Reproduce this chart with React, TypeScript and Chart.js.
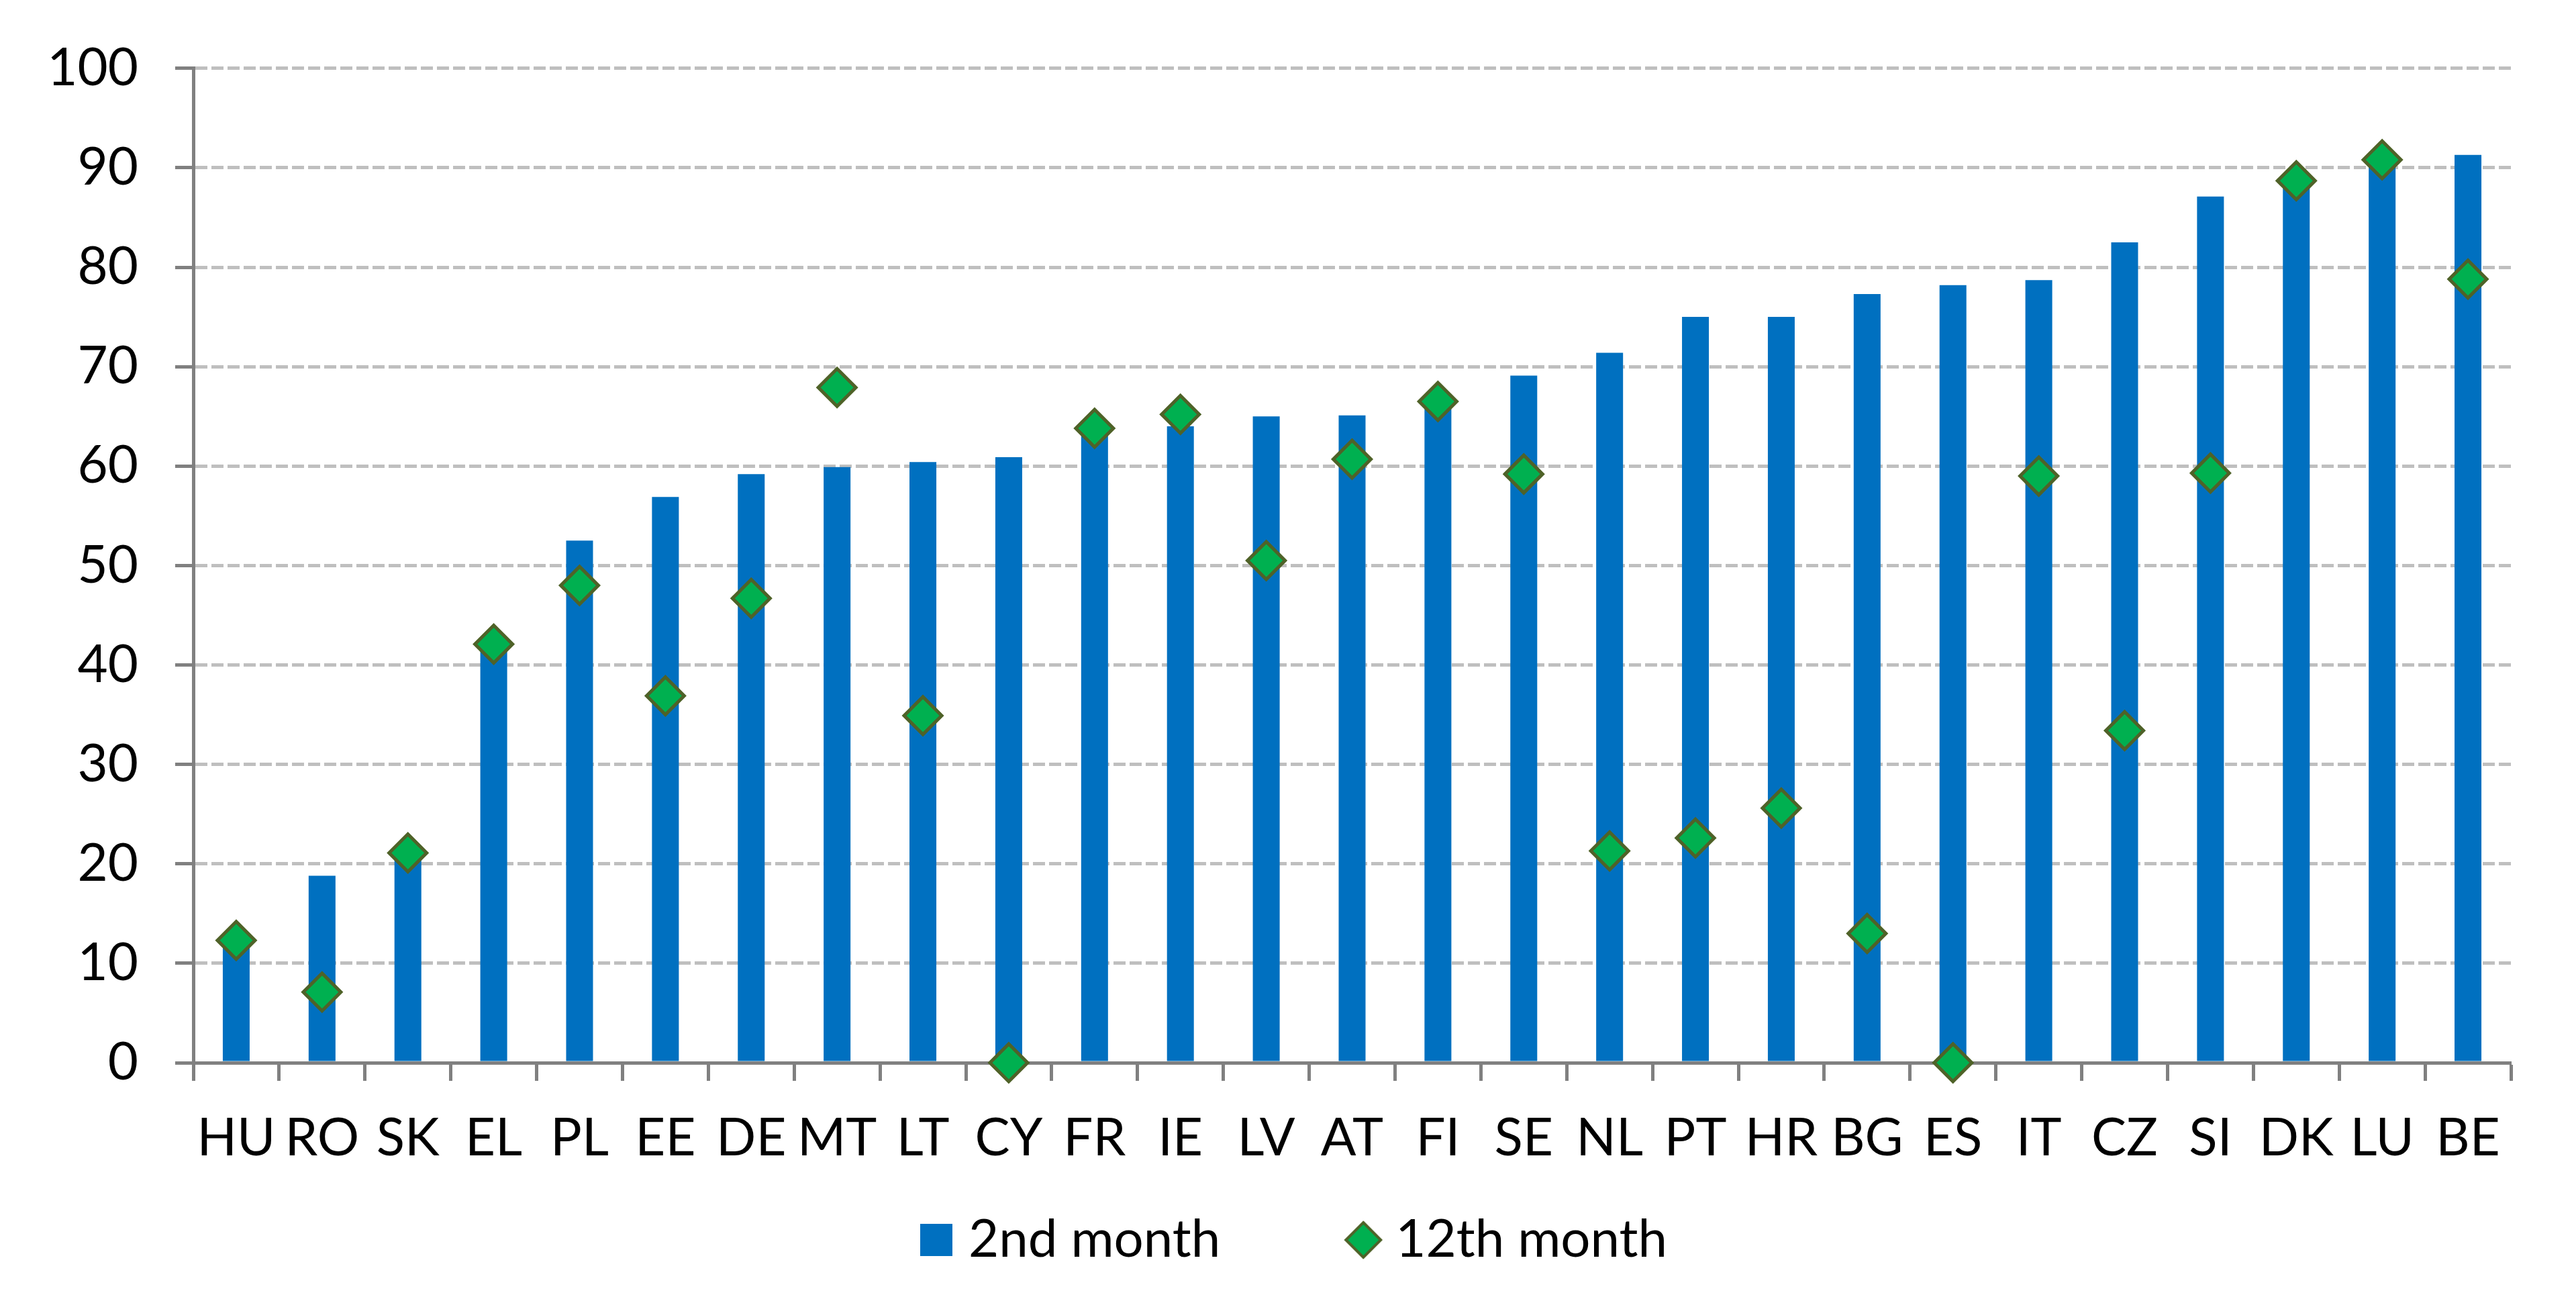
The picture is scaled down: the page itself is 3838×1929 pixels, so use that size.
import { useEffect, useRef } from "react";
import { Chart, registerables } from "chart.js";

Chart.register(...registerables);

const countries = [
  "HU", "RO", "SK", "EL", "PL", "EE", "DE", "MT", "LT", "CY", "FR", "IE", "LV", "AT",
  "FI", "SE", "NL", "PT", "HR", "BG", "ES", "IT", "CZ", "SI", "DK", "LU", "BE",
];
const secondMonth = [
  12.0, 18.8, 20.8, 41.6, 52.5, 56.9, 59.2, 59.9, 60.4, 60.9, 63.5, 64.0, 65.0, 65.1,
  66.0, 69.1, 71.4, 75.0, 75.0, 77.3, 78.2, 78.7, 82.5, 87.1, 88.4, 90.4, 91.3,
];
const twelfthMonth = [
  12.3, 7.1, 21.1, 42.1, 48.0, 36.9, 46.7, 67.9, 34.9, 0, 63.8, 65.2, 50.5, 60.7,
  66.5, 59.2, 21.3, 22.6, 25.6, 13.0, 0, 59.0, 33.4, 59.3, 88.7, 90.8, 78.8,
];
const yTickValues = [0, 10, 20, 30, 40, 50, 60, 70, 80, 90, 100];
const seriesNames = ["2nd month", "12th month"];

const BLUE = "#0070C0";
const GREEN = "#00B050";
const OLIVE = "#4F6228";
const AXIS = "#808080";
const GRID = "#BFBFBF";
const FONT = 'Lato, "Liberation Sans", sans-serif';

// legend marker slot; the visible marker sits at its right end, next to the text
const MARK_W = 147;
const MARK_PAD = 20;
const MARK_H = 58;

function markerCanvas() {
  const c = document.createElement("canvas");
  c.width = MARK_W + 2 * MARK_PAD;
  c.height = MARK_H;
  return c;
}

function barMarker() {
  const c = markerCanvas();
  const g = c.getContext("2d")!;
  const cx = MARK_PAD + MARK_W - 9;
  g.fillStyle = BLUE;
  g.fillRect(cx - 24, 5, 48, 48);
  return c;
}

function diamondMarker() {
  const c = markerCanvas();
  const g = c.getContext("2d")!;
  const cx = MARK_PAD + MARK_W - 9;
  g.beginPath();
  g.moveTo(cx, 3);
  g.lineTo(cx + 26, 29);
  g.lineTo(cx, 55);
  g.lineTo(cx - 26, 29);
  g.closePath();
  g.fillStyle = GREEN;
  g.fill();
  g.lineWidth = 4;
  g.strokeStyle = OLIVE;
  g.stroke();
  return c;
}

const ChartComponent = () => {
  const chartRef = useRef<HTMLCanvasElement | null>(null);
  const chartInstance = useRef<Chart | null>(null);

  useEffect(() => {
    document.body.style.margin = "0";
    if (!chartRef.current) return;
    if (chartInstance.current) chartInstance.current.destroy();

    const markers = [barMarker(), diamondMarker()];

    chartInstance.current = new Chart(chartRef.current, {
      type: "bar",
      data: {
        labels: countries,
        datasets: [
          {
            type: "bar",
            label: seriesNames[0],
            data: secondMonth,
            backgroundColor: BLUE,
            categoryPercentage: 1,
            barPercentage: 0.313,
            order: 1,
          },
          {
            type: "line",
            label: seriesNames[1],
            data: twelfthMonth,
            showLine: false,
            pointStyle: "rectRot",
            pointRadius: 28,
            pointHoverRadius: 28,
            pointBorderWidth: 5,
            pointBackgroundColor: GREEN,
            pointBorderColor: OLIVE,
            clip: false,
            order: 0,
          } as any,
        ],
      },
      options: {
        animation: false,
        responsive: true,
        maintainAspectRatio: false,
        layout: { padding: { top: 96, left: 0, right: 97, bottom: 33 } },
        plugins: {
          tooltip: { enabled: false },
          legend: {
            position: "bottom",
            labels: {
              font: { family: FONT, size: 78 },
              color: "#000",
              usePointStyle: true,
              pointStyleWidth: MARK_W,
              boxHeight: 48,
              padding: 75,
              sort: (a: any, b: any) => a.datasetIndex - b.datasetIndex,
              generateLabels: (chart: Chart) =>
                Chart.defaults.plugins.legend.labels
                  .generateLabels(chart)
                  .map((item: any) => ({
                    ...item,
                    pointStyle: markers[item.datasetIndex],
                    lineWidth: 0,
                  })),
            },
          },
        },
        scales: {
          x: {
            grid: {
              offset: true,
              drawOnChartArea: false,
              drawTicks: true,
              tickLength: 27,
              tickColor: AXIS,
              tickWidth: 5,
            },
            border: { color: AXIS, width: 5 },
            ticks: {
              font: { family: FONT, size: 78 },
              color: "#000",
              padding: 39,
              maxRotation: 0,
              autoSkip: false,
            },
            afterFit: (s: any) => {
              s.height = 150;
            },
          },
          y: {
            min: 0,
            max: 100,
            afterBuildTicks: (s: any) => {
              s.ticks = yTickValues.map((v) => ({ value: v }));
            },
            grid: {
              color: (ctx: any) => (ctx.tick && ctx.tick.value === 0 ? "rgba(0,0,0,0)" : GRID),
              lineWidth: 5,
              tickLength: 27,
              tickColor: AXIS,
              tickWidth: 5,
              borderDash: [18, 6],
            } as any,
            border: { color: AXIS, width: 5, dash: [18, 6] },
            ticks: {
              font: { family: FONT, size: 78 },
              color: "#000",
              padding: 55,
            },
            afterFit: (s: any) => {
              s.width = 288;
            },
          },
        },
      },
    });

    return () => {
      if (chartInstance.current) {
        chartInstance.current.destroy();
        chartInstance.current = null;
      }
    };
  }, []);

  return (
    <div style={{ width: "3838px", height: "1929px", position: "relative" }}>
      <canvas ref={chartRef}></canvas>
    </div>
  );
};

export default function App() {
  return <ChartComponent />;
}
